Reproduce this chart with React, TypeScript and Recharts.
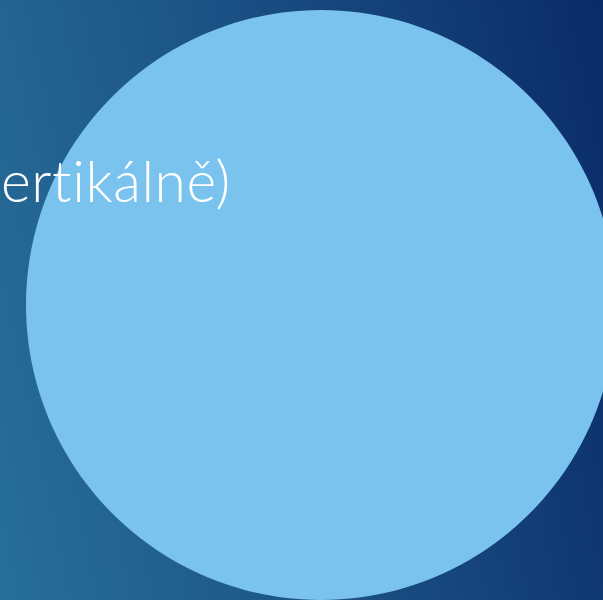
import React from 'react';
import { PieChart, Pie, Cell } from 'recharts';

const sliceNames = ['kruh'];
const sliceValues = [1];
const titleText = 'ertikálně)';

const data = sliceNames.map((name, i) => ({ name, value: sliceValues[i] }));

export default function App() {
  return (
    <div
      style={{
        position: 'absolute',
        left: 0,
        top: 0,
        width: 603,
        height: 600,
        overflow: 'hidden',
        background: 'linear-gradient(78deg, #276f9b 0%, #1d5688 40%, #0a2b69 100%)',
      }}
    >
      <PieChart width={603} height={600} margin={{ top: 0, right: 0, bottom: 0, left: 0 }}>
        <Pie
          data={data}
          dataKey="value"
          nameKey="name"
          cx={321}
          cy={305}
          innerRadius={0}
          outerRadius={295}
          startAngle={90}
          endAngle={-270}
          stroke="none"
          isAnimationActive={false}
        >
          {data.map((d) => (
            <Cell key={d.name} fill="#7ac3ee" />
          ))}
        </Pie>
      </PieChart>
      <svg
        width={603}
        height={600}
        style={{ position: 'absolute', left: 0, top: 0, pointerEvents: 'none' }}
      >
        <text
          x={1}
          y={202}
          textAnchor="start"
          fill="#ffffff"
          fontFamily="Lato, 'Open Sans', sans-serif"
          fontWeight={300}
          fontSize={57}
          letterSpacing={0.6}
          style={{ fontVariantLigatures: 'none' }}
        >
          {titleText}
        </text>
      </svg>
    </div>
  );
}
